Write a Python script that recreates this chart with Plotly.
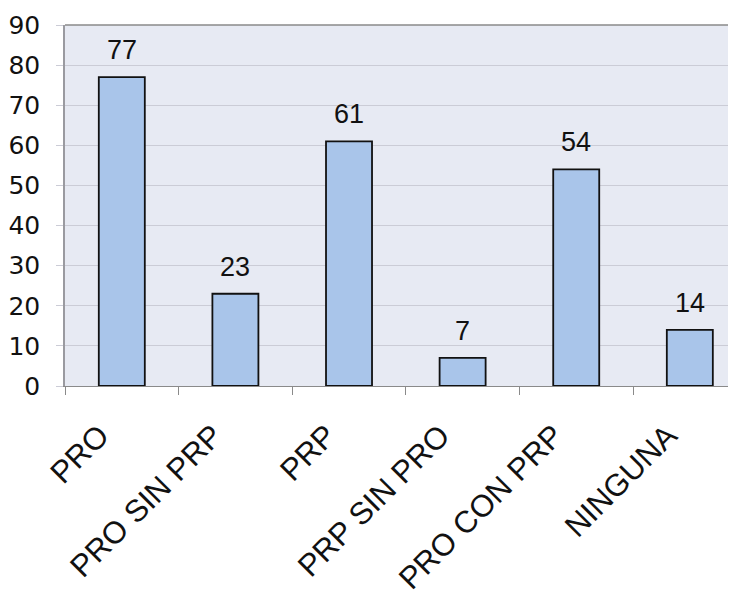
import plotly.graph_objects as go

categories = ["PRO", "PRO SIN PRP", "PRP", "PRP SIN PRO", "PRO CON PRP", "NINGUNA"]
values = [77, 23, 61, 7, 54, 14]
y_ticks = [0, 10, 20, 30, 40, 50, 60, 70, 80, 90]

fig = go.Figure()
fig.add_trace(go.Bar(
    x=categories,
    y=values,
    width=0.405,
    marker=dict(color="#a9c5ea", line=dict(color="#111111", width=1.8)),
    cliponaxis=False,
))
for c, v in zip(categories, values):
    fig.add_annotation(
        x=c, y=v, text=str(v), showarrow=False,
        yanchor="bottom", yshift=10,
        font=dict(family="Liberation Sans, Arial", size=27, color="#111111"),
    )

# page body has an 8px margin, so offsets are reduced by 8
fig.update_layout(
    width=738, height=594,
    margin=dict(l=57, r=18, t=17, b=216, autoexpand=False),
    paper_bgcolor="white",
    plot_bgcolor="#e7eaf3",
    showlegend=False,
    font=dict(family="Liberation Sans, Arial", size=26, color="#111111"),
    shapes=[dict(type="line", xref="paper", yref="paper", x0=0, x1=1, y0=1, y1=1,
                 line=dict(color="#8a8a8a", width=1.5))],
)
fig.update_xaxes(
    type="category",
    range=[-0.5, 5.336],
    tickangle=-45,
    showgrid=False,
    showline=True, linecolor="#8a8a8a", linewidth=1,
    ticks="outside", tickson="boundaries", ticklen=8, tickcolor="#8a8a8a",
    ticklabelstandoff=18, ticklabelshift=-22,
    tickfont=dict(family="Liberation Sans, Arial", size=31),
    automargin=False,
)
fig.update_yaxes(
    range=[0, 90],
    tickvals=y_ticks,
    showgrid=True, gridcolor="#cbccd6", gridwidth=1,
    showline=True, linecolor="#9a9aa0", linewidth=1.5,
    ticks="outside", ticklen=7, tickcolor="#cbccd6",
    ticklabelstandoff=11,
    tickfont=dict(family="DejaVu Sans", size=25),
    zeroline=False,
    automargin=False,
)
fig.write_html("out.html")
